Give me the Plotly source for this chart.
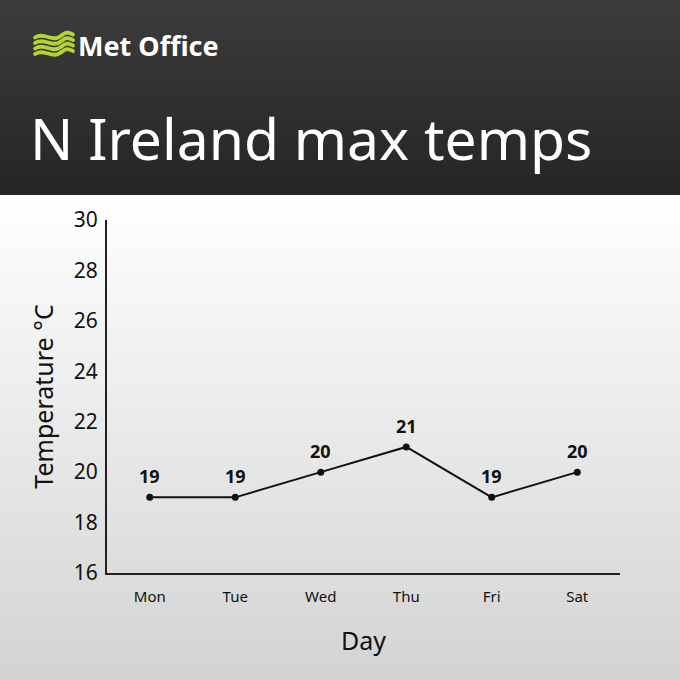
import base64
import plotly.graph_objects as go

days = ["Mon", "Tue", "Wed", "Thu", "Fri", "Sat"]
max_temps = [19, 19, 20, 21, 19, 20]
y_ticks = [16, 18, 20, 22, 24, 26, 28, 30]

W, H = 680, 680
ML, MR, MT, MB = 107, 60, 220, 107
PW, PH = W - ML - MR, H - MT - MB


def px(x):
    return (x - ML) / PW


def py(y):
    return (H - MB - y) / PH


waves = "".join(
    f'<path d="M35,{y} C44,{y-6} 52,{y+5} 60,{y-1} S68,{y-5} 73,{y-3}" '
    f'fill="none" stroke="#b4d433" stroke-width="3.8" stroke-linecap="round"/>'
    for y in (37.5, 43, 48.5, 54)
)
svg = f'''<svg xmlns="http://www.w3.org/2000/svg" width="{W}" height="{H}" viewBox="0 0 {W} {H}">
<defs>
<linearGradient id="hd" x1="0" y1="0" x2="0" y2="1">
<stop offset="0" stop-color="#3c3c3c"/><stop offset="1" stop-color="#252525"/></linearGradient>
<linearGradient id="bd" x1="0" y1="0" x2="0" y2="1">
<stop offset="0" stop-color="#ffffff"/><stop offset="1" stop-color="#d3d3d3"/></linearGradient>
</defs>
<rect x="0" y="0" width="{W}" height="195" fill="url(#hd)"/>
<rect x="0" y="195" width="{W}" height="{H-195}" fill="url(#bd)"/>
{waves}
</svg>'''
src = "data:image/svg+xml;base64," + base64.b64encode(svg.encode()).decode()

fig = go.Figure()
fig.add_trace(go.Scatter(
    x=days, y=max_temps, mode="lines+markers",
    line=dict(color="#111111", width=2),
    marker=dict(color="#111111", size=7),
    hoverinfo="skip", showlegend=False,
))

for d, t in zip(days, max_temps):
    fig.add_annotation(x=d, y=t, text=f"<b>{t}</b>", showarrow=False,
                       yshift=21, font=dict(family="Noto Sans", size=18, color="#111111"))

fig.add_layout_image(dict(
    source=src, xref="paper", yref="paper", x=px(0), y=py(0),
    sizex=W / PW, sizey=H / PH, xanchor="left", yanchor="top",
    sizing="stretch", layer="below",
))

fig.add_annotation(xref="paper", yref="paper", x=px(76), y=py(46), xanchor="left",
                   yanchor="middle", showarrow=False, text="<b>Met Office</b>",
                   font=dict(family="Noto Sans", size=27, color="white"))
fig.add_annotation(xref="paper", yref="paper", x=px(28), y=py(138), xanchor="left",
                   yanchor="middle", showarrow=False, text="N Ireland max temps",
                   font=dict(family="Noto Sans", size=57, color="white"))

fig.update_layout(
    width=W, height=H,
    margin=dict(l=ML, r=MR, t=MT, b=MB, pad=0),
    paper_bgcolor="rgba(0,0,0,0)", plot_bgcolor="rgba(0,0,0,0)",
    font=dict(family="Noto Sans", color="#111111"),
    xaxis=dict(
        range=[-0.5, 5.5], showgrid=False, zeroline=False,
        showline=True, linecolor="#222222", linewidth=2,
        ticks="", ticklabelstandoff=9, tickfont=dict(size=15),
        title=dict(text="Day", font=dict(size=25), standoff=27),
        fixedrange=True,
    ),
    yaxis=dict(
        range=[16, 30], tickvals=y_ticks, showgrid=False, zeroline=False,
        showline=True, linecolor="#222222", linewidth=2,
        ticks="", ticklabelstandoff=3, tickfont=dict(size=21),
        title=dict(text="Temperature °C", font=dict(size=25), standoff=13),
        fixedrange=True,
    ),
)

fig.write_html("out.html", config={"displayModeBar": False},
               post_script="document.body.style.margin='0';document.body.style.overflow='hidden';")
